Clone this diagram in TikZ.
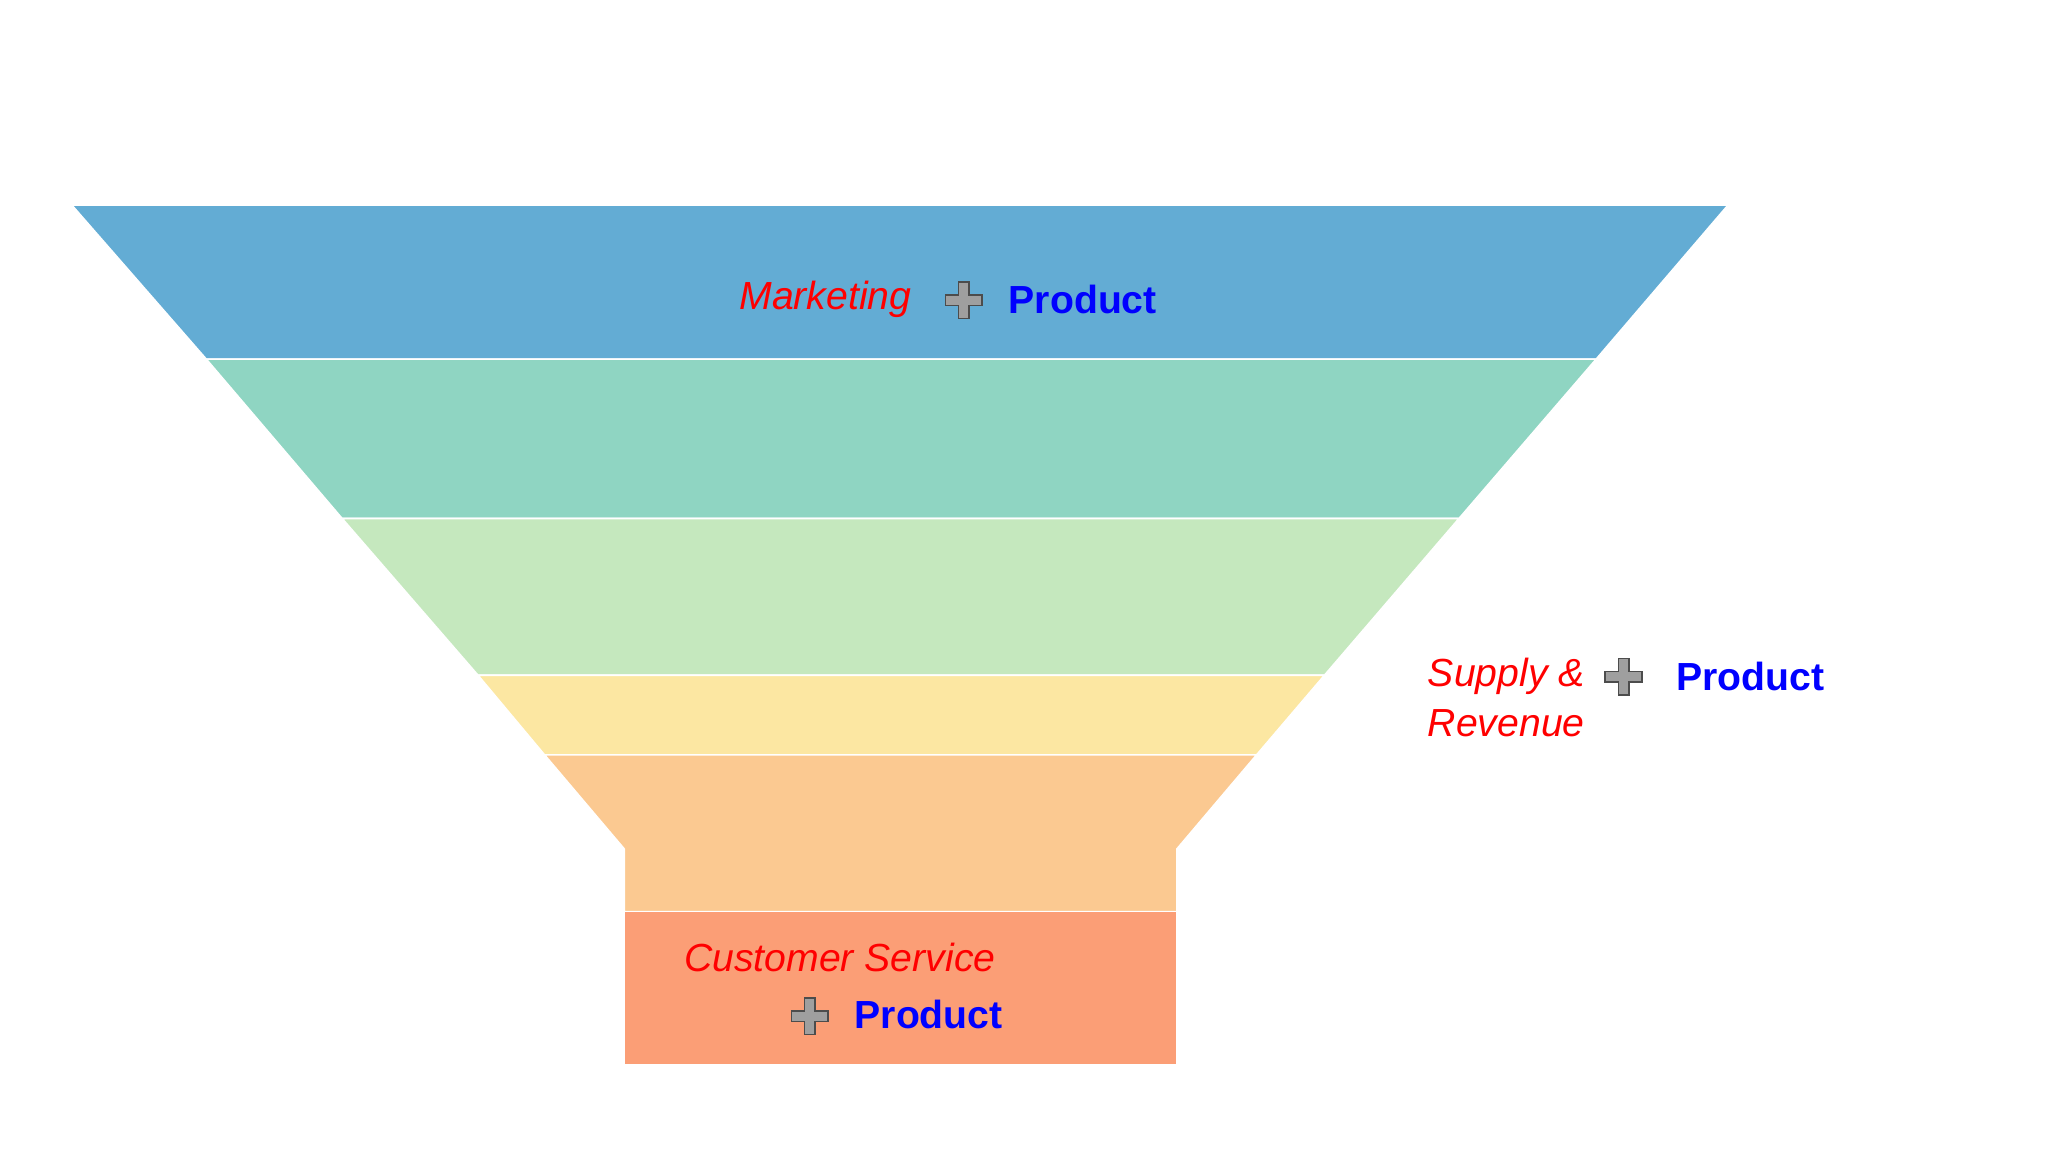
\documentclass[tikz,border=0pt]{standalone}
\usepackage{fontspec}
\setmainfont{Liberation Sans}
\usetikzlibrary{calc}
\begin{document}
\begin{tikzpicture}[x=1pt,y=-1pt,
  band/.style={draw=white,line width=1.2pt},
  red/.style={text=red,font=\fontsize{30}{34}\selectfont\itshape,inner sep=0},
  blue/.style={text=blue,font=\fontsize{30}{34}\selectfont\bfseries,inner sep=0},
  pluss/.style={fill=gray!75,draw=black!70,line width=1.2pt}]
\path[use as bounding box] (0,0) rectangle (1568,882);
\fill[white] (0,0) rectangle (1568,882);
\definecolor{c1}{HTML}{63ACD4}\definecolor{c2}{HTML}{8FD5C2}
\definecolor{c3}{HTML}{C5E8BE}\definecolor{c4}{HTML}{FCE7A2}
\definecolor{c5}{HTML}{FBC991}\definecolor{c6}{HTML}{FB9E76}
\path[band,fill=c1] (55,157) -- (1323,157) -- (1222,275) -- (158,275) -- cycle;
\path[band,fill=c2] (158,275) -- (1222,275) -- (1117,397) -- (262,397) -- cycle;
\path[band,fill=c3] (262,397) -- (1117,397) -- (1014,517) -- (366,517) -- cycle;
\path[band,fill=c4] (366,517) -- (1014,517) -- (962,578) -- (417,578) -- cycle;
\path[band,fill=c5] (417,578) -- (962,578) -- (901,650) -- (901,698) -- (478,698) -- (478,650) -- cycle;
\path[band,fill=c6] (478,698) rectangle (901,815);
\newcommand{\pcross}[3]{\draw[pluss] ($(#2)+(-4,-14)$) -- ++(8,0) -- ++(0,10) -- ++(10,0) -- ++(0,8) -- ++(-10,0) -- ++(0,10) -- ++(-8,0) -- ++(0,-10) -- ++(-10,0) -- ++(0,-8) -- ++(10,0) -- cycle; \coordinate (#1) at (#2);}
\node[red] (m) at (632,229) {Marketing};
\pcross{pm}{738,230}{}
\node[blue] (pmt) at (829,229) {Product};
\node[red,anchor=west] (s1) at (1093,518) {Supply \&};
\node[red,anchor=west] (s2) at (1093,554) {Revenue};
\pcross{ps}{1243,518}{}
\node[blue] (pst) at (1340,518) {Product};
\node[red] (cs) at (643,733) {Customer Service};
\pcross{pc}{620,778}{}
\node[blue] (pct) at (711,777) {Product};
\end{tikzpicture}
\end{document}
